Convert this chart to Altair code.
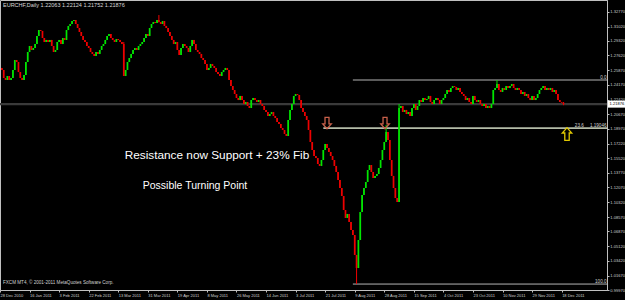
import altair as alt
import pandas as pd

# ---------------- data ----------------
first_open = 1.2614
closes = [
    1.2590, 1.2496, 1.2472, 1.2519, 1.2472,
    1.2496, 1.2590, 1.2708, 1.2684, 1.2566,
    1.2496, 1.2472, 1.2531, 1.2684, 1.2802,
    1.2873, 1.2826, 1.2849, 1.2896, 1.2991,
    1.3061, 1.3050, 1.2967, 1.2920, 1.2944,
    1.2920, 1.2944, 1.2873, 1.2802, 1.2826,
    1.2920, 1.2944, 1.2896, 1.2967, 1.2944,
    1.3061, 1.3109, 1.3132, 1.3167, 1.3179,
    1.3132, 1.3085, 1.3038, 1.2991, 1.2944,
    1.2920, 1.2873, 1.2849, 1.2802, 1.2779,
    1.2755, 1.2802, 1.2779, 1.2826, 1.2873,
    1.2896, 1.2944, 1.2991, 1.3014, 1.2967,
    1.2944, 1.2920, 1.2955, 1.2944, 1.2920,
    1.2896, 1.2519, 1.2590, 1.2684, 1.2731,
    1.2779, 1.2826, 1.2849, 1.2826, 1.2873,
    1.2896, 1.2920, 1.2967, 1.3014, 1.2991,
    1.3085, 1.3132, 1.3156, 1.3144, 1.3179,
    1.3156, 1.3132, 1.3167, 1.3109, 1.3085,
    1.3038, 1.2991, 1.2944, 1.2896, 1.2920,
    1.2826, 1.2767, 1.2849, 1.2896, 1.2873,
    1.2849, 1.2802, 1.2873, 1.2944, 1.2896,
    1.2826, 1.2802, 1.2779, 1.2731, 1.2708,
    1.2661, 1.2590, 1.2614, 1.2661, 1.2637,
    1.2614, 1.2566, 1.2543, 1.2519, 1.2566,
    1.2590, 1.2614, 1.2590, 1.2472, 1.2401,
    1.2354, 1.2307, 1.2260, 1.2236, 1.2284,
    1.2236, 1.2189, 1.2213, 1.2166, 1.2142,
    1.2236, 1.2260, 1.2236, 1.2213, 1.2236,
    1.2189, 1.2166, 1.2119, 1.2095, 1.2048,
    1.2071, 1.2095, 1.2048, 1.2024, 1.1977,
    1.1954, 1.1906, 1.1883, 1.1836, 1.1812,
    1.2001, 1.2119, 1.2189, 1.2284, 1.2307,
    1.2295, 1.2236, 1.2142, 1.2095, 1.2048,
    1.2001, 1.1883, 1.1741, 1.1647, 1.1576,
    1.1553, 1.1482, 1.1459, 1.1529, 1.1647,
    1.1718, 1.1671, 1.1624, 1.1576, 1.1529,
    1.1459, 1.1388, 1.1294, 1.1199, 1.1105,
    1.0940, 1.0846, 1.0893, 1.0799, 1.0704,
    1.0645, 1.0410, 1.0256, 1.0586, 1.0916,
    1.1117, 1.1199, 1.1270, 1.1411, 1.1470,
    1.1388, 1.1317, 1.1341, 1.1364, 1.1435,
    1.1529, 1.1647, 1.1741, 1.1859, 1.1765,
    1.1529, 1.1341, 1.1199, 1.1081, 1.1034,
    1.2142, 1.2166, 1.2095, 1.2119, 1.2071,
    1.2095, 1.2048, 1.2142, 1.2189, 1.2119,
    1.2166, 1.2236, 1.2213, 1.2260, 1.2236,
    1.2248, 1.2284, 1.2213, 1.2189, 1.2236,
    1.2260, 1.2236, 1.2189, 1.2236, 1.2260,
    1.2307, 1.2354, 1.2331, 1.2378, 1.2401,
    1.2390, 1.2354, 1.2378, 1.2331, 1.2307,
    1.2284, 1.2236, 1.2260, 1.2213, 1.2189,
    1.2284, 1.2236, 1.2213, 1.2236, 1.2189,
    1.2166, 1.2189, 1.2142, 1.2166, 1.2142,
    1.2189, 1.2354, 1.2378, 1.2425, 1.2354,
    1.2331, 1.2378, 1.2354, 1.2401, 1.2378,
    1.2401, 1.2425, 1.2378, 1.2354, 1.2378,
    1.2354, 1.2307, 1.2331, 1.2284, 1.2307,
    1.2260, 1.2236, 1.2284, 1.2236, 1.2260,
    1.2307, 1.2354, 1.2378, 1.2401, 1.2354,
    1.2378, 1.2354, 1.2378, 1.2331, 1.2354,
    1.2307, 1.2236, 1.2213, 1.2206, 1.21876,
]
wick_bar = [67, 86, 193, 209, 216, 269, 305]
wick_high = [1.2920, 1.3238, 1.0410, 1.1942, 1.2189, 1.2472, 1.22124]
wick_low = [1.2519, 1.3150, 1.0067, 1.1741, 1.1034, 1.2378, 1.21752]

date_labels = ["28 Dec 2010", "16 Jan 2011", "3 Feb 2011", "22 Feb 2011", "13 Mar 2011",
               "31 Mar 2011", "19 Apr 2011", "8 May 2011", "26 May 2011", "14 Jun 2011",
               "3 Jul 2011", "21 Jul 2011", "9 Aug 2011", "28 Aug 2011", "15 Sep 2011",
               "4 Oct 2011", "23 Oct 2011", "10 Nov 2011", "29 Nov 2011", "18 Dec 2011"]
bars_per_label = 16
price_ticks = [1.32770, 1.31020, 1.29320, 1.27620, 1.25870, 1.24170, 1.22420, 1.20670,
               1.18970, 1.17220, 1.15520, 1.13770, 1.12070, 1.10320, 1.08570, 1.06870,
               1.05120, 1.03420, 1.01670, 0.99970]
last_price = 1.21876
header = "EURCHF,Daily  1.22063 1.22124 1.21752 1.21876"
footer = "FXCM MT4, \u00a9 2001-2011 MetaQuotes Software Corp."

fib_line_price = [1.2472, 1.0067]
fib_line_start = [191, 191]
support_price = 1.19046
support_start = 175
fib_text = ["0.0", "23.6", "1.19046", "100.0"]
fib_text_bar = [328.3, 316.0, 328.3, 328.3]
fib_text_price = [1.2472, 1.19046, 1.19046, 1.0067]

arrow_bar = [177.0, 208.4, 306.9]
arrow_price = [1.1965, 1.1965, 1.1836]
arrow_kind = ["down", "down", "up"]

# ---------------- tables ----------------
wicks = {b: (h, l) for b, h, l in zip(wick_bar, wick_high, wick_low)}
rows = []
prev = first_open
for k, c in enumerate(closes, start=1):
    o = prev
    hi, lo = max(o, c), min(o, c)
    if k in wicks:
        hi, lo = wicks[k]
    rows.append(dict(i=k, open=o, close=c, high=hi, low=lo, dir="up" if c >= o else "down"))
    prev = c
candles = pd.DataFrame(rows)

X_END = 328.55
xs = alt.Scale(domain=[0, X_END], nice=False, zero=False)
ys = alt.Scale(domain=[0.9997, 1.3415], nice=False, zero=False)
col = alt.Color("dir:N", scale=alt.Scale(domain=["up", "down"], range=["#00e600", "#ee0000"]), legend=None)

label_js = "[" + ",".join("'%s'" % d for d in date_labels) + "][round(datum.value/%d)]" % bars_per_label
x_axis = alt.Axis(values=[bars_per_label * k for k in range(len(date_labels))], labelExpr=label_js,
                  labelAlign="left", labelFontSize=4.0, labelColor="#d0d0d0", labelPadding=1,
                  labelOverlap=False, labelFlush=False, tickSize=2, tickColor="#c0c0c0",
                  domainColor="#c0c0c0", grid=False, title="", labelFont="Liberation Sans")
y_axis = alt.Axis(orient="right", values=price_ticks, format=".5f", labelFontSize=4.05,
                  labelColor="#d0d0d0", labelPadding=0.8, labelOverlap=False, tickSize=2,
                  tickColor="#c0c0c0", domainColor="#c0c0c0", grid=False, title="",
                  labelFont="Liberation Sans")


def X(f):
    return alt.X(f, scale=xs, axis=x_axis)


def Y(f):
    return alt.Y(f, scale=ys, axis=y_axis)


price_line = alt.Chart(pd.DataFrame({"p": [last_price]})).mark_rule(
    color="#3a3a3a", strokeWidth=2.4).encode(y=Y("p:Q"))

fib_df = pd.DataFrame({"p": fib_line_price, "s": fib_line_start, "e": [X_END, X_END]})
fib_lines = alt.Chart(fib_df).mark_rule(color="#b4b4b4", strokeWidth=1).encode(
    x=X("s:Q"), x2="e:Q", y=Y("p:Q"))
sup_df = pd.DataFrame({"p": [support_price], "s": [support_start], "e": [X_END]})
sup_line = alt.Chart(sup_df).mark_rule(color="#b4bca8", strokeWidth=1.6).encode(
    x=X("s:Q"), x2="e:Q", y=Y("p:Q"))

wick_layer = alt.Chart(candles).mark_rule(strokeWidth=1.0).encode(
    x=X("i:Q"), y=Y("low:Q"), y2="high:Q", color=col)
body_layer = alt.Chart(candles).mark_rule(strokeWidth=1.7).encode(
    x=X("i:Q"), y=Y("open:Q"), y2="close:Q", color=col)

fib_lbl = alt.Chart(pd.DataFrame({"t": fib_text, "x": fib_text_bar, "p": fib_text_price})).mark_text(
    align="right", baseline="bottom", dy=-0.5, fontSize=4.6, color="#d0d0d0", font="Liberation Sans").encode(
    x=X("x:Q"), y=Y("p:Q"), text="t:N")

down_path = "M-0.35,-1L0.35,-1L0.35,0.15L0.75,0.15L0,1L-0.75,0.15L-0.35,0.15Z"
up_path = "M-0.35,1L0.35,1L0.35,-0.15L0.75,-0.15L0,-1L-0.75,-0.15L-0.35,-0.15Z"
arr_df = pd.DataFrame({"x": arrow_bar, "p": arrow_price, "k": arrow_kind})
arrows_dn = alt.Chart(arr_df).transform_filter("datum.k == 'down'").mark_point(
    shape=down_path, size=130, filled=False, stroke="#c8604a", strokeWidth=1.3, opacity=1).encode(
    x=X("x:Q"), y=Y("p:Q"))
arrows_up = alt.Chart(arr_df).transform_filter("datum.k == 'up'").mark_point(
    shape=up_path, size=160, filled=False, stroke="#e0c800", strokeWidth=1.3, opacity=1).encode(
    x=X("x:Q"), y=Y("p:Q"))

note1 = alt.Chart(pd.DataFrame({"t": ["Resistance now Support + 23% Fib"]})).mark_text(
    align="center", baseline="middle", fontSize=11.8, color="#ffffff", font="Liberation Sans").encode(
    x=alt.value(217), y=alt.value(155), text="t:N")
note2 = alt.Chart(pd.DataFrame({"t": ["Possible Turning Point"]})).mark_text(
    align="center", baseline="middle", fontSize=10.5, color="#ffffff", font="Liberation Sans").encode(
    x=alt.value(195), y=alt.value(186), text="t:N")
head = alt.Chart(pd.DataFrame({"t": [header]})).mark_text(
    align="left", baseline="middle", fontSize=5.5, color="#d8d8d8", font="Liberation Sans").encode(
    x=alt.value(3), y=alt.value(5), text="t:N")
foot = alt.Chart(pd.DataFrame({"t": [footer]})).mark_text(
    align="left", baseline="middle", fontSize=4.6, color="#d0d0d0", font="Liberation Sans").encode(
    x=alt.value(3), y=alt.value(283), text="t:N")

tag_df = pd.DataFrame({"p": [last_price], "t": ["%.5f" % last_price]})
tag_box = alt.Chart(tag_df).mark_rect(color="#ffffff", yOffset=-3.5, y2Offset=3.5).encode(
    x=alt.value(608), x2=alt.value(625), y=Y("p:Q"), y2="p:Q")
tag_txt = alt.Chart(tag_df).mark_text(align="left", baseline="middle", fontSize=4.05,
                                      color="#000000", font="Liberation Sans").encode(
    x=alt.value(609.5), y=Y("p:Q"), text="t:N")

chart = alt.layer(
    price_line, fib_lines, sup_line, wick_layer, body_layer, fib_lbl,
    arrows_dn, arrows_up, note1, note2, head, foot, tag_box, tag_txt
).properties(
    width=607, height=290,
    autosize=alt.AutoSizeParams(type="none"),
    padding={"left": 0, "top": 0, "right": 18, "bottom": 10},
).configure(background="#000000").configure_view(stroke="#c0c0c0", strokeWidth=1)

chart.save("out.html", embed_options={"renderer": "svg", "actions": False})
